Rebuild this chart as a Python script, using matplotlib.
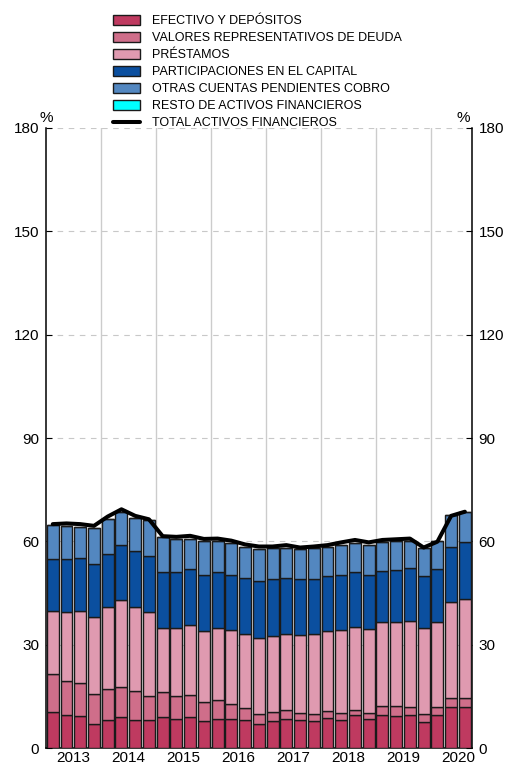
import matplotlib
matplotlib.use("Agg")
import matplotlib.pyplot as plt
import numpy as np

plt.rcParams['font.family'] = ['Liberation Sans', 'DejaVu Sans']

# quarterly data, 2013Q1 - 2020Q3 (% of GDP)
years = ['2013', '2014', '2015', '2016', '2017', '2018', '2019', '2020']

efectivo = [10.4, 9.6, 9.2, 6.9, 8.0, 8.9, 8.1, 8.0, 8.9, 8.5, 8.9, 7.8, 8.5, 8.5, 8.0, 6.9,
            7.9, 8.5, 8.2, 7.8, 8.7, 8.2, 9.5, 8.3, 9.7, 9.3, 9.7, 7.5, 9.7, 12.0, 12.0]
valores = [11.1, 9.8, 9.7, 8.8, 9.1, 8.9, 8.5, 7.0, 7.3, 6.6, 6.6, 5.5, 5.4, 4.2, 3.6, 2.9,
           2.6, 2.5, 2.1, 2.2, 2.1, 2.1, 1.6, 1.9, 2.6, 2.8, 2.3, 2.4, 2.2, 2.6, 2.6]
prestamos = [18.4, 20.1, 20.8, 22.2, 23.7, 25.2, 24.4, 24.6, 18.7, 19.8, 20.1, 20.7, 21.0, 21.5, 21.4, 22.0,
             22.0, 22.2, 22.5, 23.2, 23.2, 24.1, 24.1, 24.4, 24.2, 24.4, 24.9, 24.8, 24.8, 27.9, 28.7]
participaciones = [14.9, 15.3, 15.5, 15.4, 15.5, 16.0, 16.2, 16.0, 16.3, 16.3, 16.3, 16.2, 16.1, 16.0, 16.3, 16.8,
                   16.5, 16.3, 16.3, 15.9, 15.8, 15.8, 15.9, 15.7, 15.0, 15.3, 15.4, 15.1, 15.2, 16.0, 16.6]
otras = [9.9, 9.7, 9.1, 10.5, 10.2, 9.4, 9.5, 10.6, 10.0, 9.4, 8.7, 9.9, 9.1, 9.2, 9.2, 9.1,
         9.0, 8.7, 8.6, 8.9, 8.7, 8.8, 8.3, 8.7, 8.3, 8.3, 7.8, 8.2, 8.2, 9.2, 8.7]
resto = [0.0] * 31
total = [65.0, 65.2, 65.0, 64.5, 67.2, 69.3, 67.4, 66.4, 61.5, 61.3, 61.6, 60.7, 60.8, 60.2, 59.1, 58.5,
         58.5, 58.9, 58.2, 58.5, 58.9, 59.7, 60.4, 59.7, 60.4, 60.6, 60.8, 58.2, 59.9, 67.4, 68.6]

series = [
    ('EFECTIVO Y DEPÓSITOS', efectivo, '#bf3a60'),
    ('VALORES REPRESENTATIVOS DE DEUDA', valores, '#cf6e8a'),
    ('PRÉSTAMOS', prestamos, '#df9ab0'),
    ('PARTICIPACIONES EN EL CAPITAL', participaciones, '#0b4f9f'),
    ('OTRAS CUENTAS PENDIENTES COBRO', otras, '#5387c0'),
    ('RESTO DE ACTIVOS FINANCIEROS', resto, '#00ffff'),
]

fig = plt.figure(figsize=(5.1, 7.65), dpi=100)
ax = fig.add_axes([0.090, 0.0222, 0.835, 0.8105])

x = np.arange(len(total))
bottom = np.zeros(len(total))
handles = []
for name, vals, col in series:
    b = ax.bar(x, vals, width=0.87, bottom=bottom, color=col, edgecolor='#1a1a1a',
               linewidth=1.0, label=name, zorder=3)
    handles.append(b)
    bottom += np.array(vals)

ln, = ax.plot(x, total, color='black', linewidth=2.9, solid_joinstyle='round',
              solid_capstyle='round', zorder=5, label='TOTAL ACTIVOS FINANCIEROS')
handles.append(ln)

ax.set_xlim(-0.5, len(total) - 0.5)
ax.set_ylim(0, 180)
ax.set_yticks(np.arange(0, 181, 30))

# year labels centred on each year's quarters, grid between years
ax.set_xticks([4 * i + 1.5 for i in range(len(years))])
ax.set_xticklabels(years, fontsize=11)
ax.set_xticks([4 * i + 3.5 for i in range(len(years) - 1)], minor=True)
ax.tick_params(axis='x', which='both', length=0, pad=2.5)
ax.grid(axis='x', which='minor', color='#cccccc', linewidth=1.0, zorder=0)
ax.grid(axis='y', which='major', color='#c8c8c8', linewidth=0.8, linestyle=(0, (5, 5)), zorder=0)

ax.tick_params(axis='y', which='major', direction='in', length=4, labelsize=11,
               left=True, right=True, labelleft=True, labelright=True, pad=5)

ax.spines['top'].set_visible(False)
for s in ['left', 'right', 'bottom']:
    ax.spines[s].set_linewidth(1.1)

ax.text(0.0, 1.005, '%', transform=ax.transAxes, ha='center', va='bottom', fontsize=11)
ax.text(0.995, 1.005, '%', transform=ax.transAxes, ha='right', va='bottom', fontsize=11)

fig.legend(handles=handles, loc='upper left', bbox_to_anchor=(0.205, 0.992), frameon=False,
           fontsize=9, handlelength=2.15, handleheight=0.9, handletextpad=0.95,
           labelspacing=0.36, borderpad=0.2)

fig.savefig('out.png', dpi=100)
